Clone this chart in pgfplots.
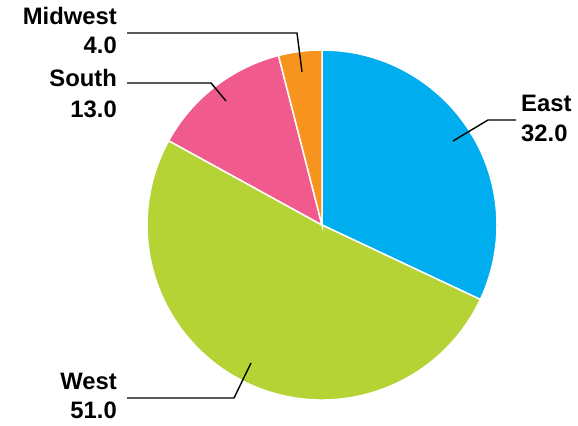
\documentclass[border=0pt]{standalone}
\usepackage{pgfplots}
\pgfplotsset{compat=1.18}
\usepackage{fontspec}
\setmainfont{Liberation Sans}
\definecolor{eastc}{HTML}{00AEEF}
\definecolor{westc}{HTML}{B5D334}
\definecolor{southc}{HTML}{F05A8C}
\definecolor{midc}{HTML}{F7941D}
% values
\def\vEast{32.0}
\def\vWest{51.0}
\def\vSouth{13.0}
\def\vMid{4.0}
\pgfmathsetmacro\aE{90-\vEast*3.6}
\pgfmathsetmacro\aW{\aE-\vWest*3.6}
\pgfmathsetmacro\aS{\aW-\vSouth*3.6}
\pgfmathsetmacro\aM{\aS-\vMid*3.6}
\begin{document}
\begin{tikzpicture}
\begin{axis}[
  width=578pt, height=424pt, scale only axis,
  xmin=0, xmax=578, ymin=0, ymax=424,
  hide axis, clip=false,
]
\path (axis cs:0,0) rectangle (axis cs:578,424);
\def\cx{322}\def\cy{199}\def\R{175}
\fill[eastc, draw=white, line width=1.5pt] (axis cs:\cx,\cy) -- ++(90:\R pt) arc[start angle=90, end angle=\aE, radius=\R pt] -- cycle;
\fill[westc, draw=white, line width=1.5pt] (axis cs:\cx,\cy) -- ++(\aE:\R pt) arc[start angle=\aE, end angle=\aW, radius=\R pt] -- cycle;
\fill[southc, draw=white, line width=1.5pt] (axis cs:\cx,\cy) -- ++(\aW:\R pt) arc[start angle=\aW, end angle=\aS, radius=\R pt] -- cycle;
\fill[midc, draw=white, line width=1.5pt] (axis cs:\cx,\cy) -- ++(\aS:\R pt) arc[start angle=\aS, end angle=\aM, radius=\R pt] -- cycle;
% leader lines
\draw[black, line width=1.4pt] (axis cs:127,391) -- (axis cs:297,391) -- (axis cs:302,352);
\draw[black, line width=1.4pt] (axis cs:127,341) -- (axis cs:211,341) -- (axis cs:226,323);
\draw[black, line width=1.4pt] (axis cs:453,283) -- (axis cs:488,304) -- (axis cs:516,304);
\draw[black, line width=1.4pt] (axis cs:127,26) -- (axis cs:234,26) -- (axis cs:251,61);
% labels
\tikzset{lab/.style={font=\fontsize{23.8}{28}\selectfont\bfseries, inner sep=0pt}}
\node[lab, anchor=base east] at (axis cs:117,399) {Midwest};
\node[lab, anchor=base east] at (axis cs:117,370) {4.0};
\node[lab, anchor=base east] at (axis cs:117,337) {South};
\node[lab, anchor=base east] at (axis cs:117,306) {13.0};
\node[lab, anchor=base west] at (axis cs:521,312) {East};
\node[lab, anchor=base west] at (axis cs:521,282) {32.0};
\node[lab, anchor=base east] at (axis cs:117,34) {West};
\node[lab, anchor=base east] at (axis cs:117,5) {51.0};
\end{axis}
\end{tikzpicture}
\end{document}
